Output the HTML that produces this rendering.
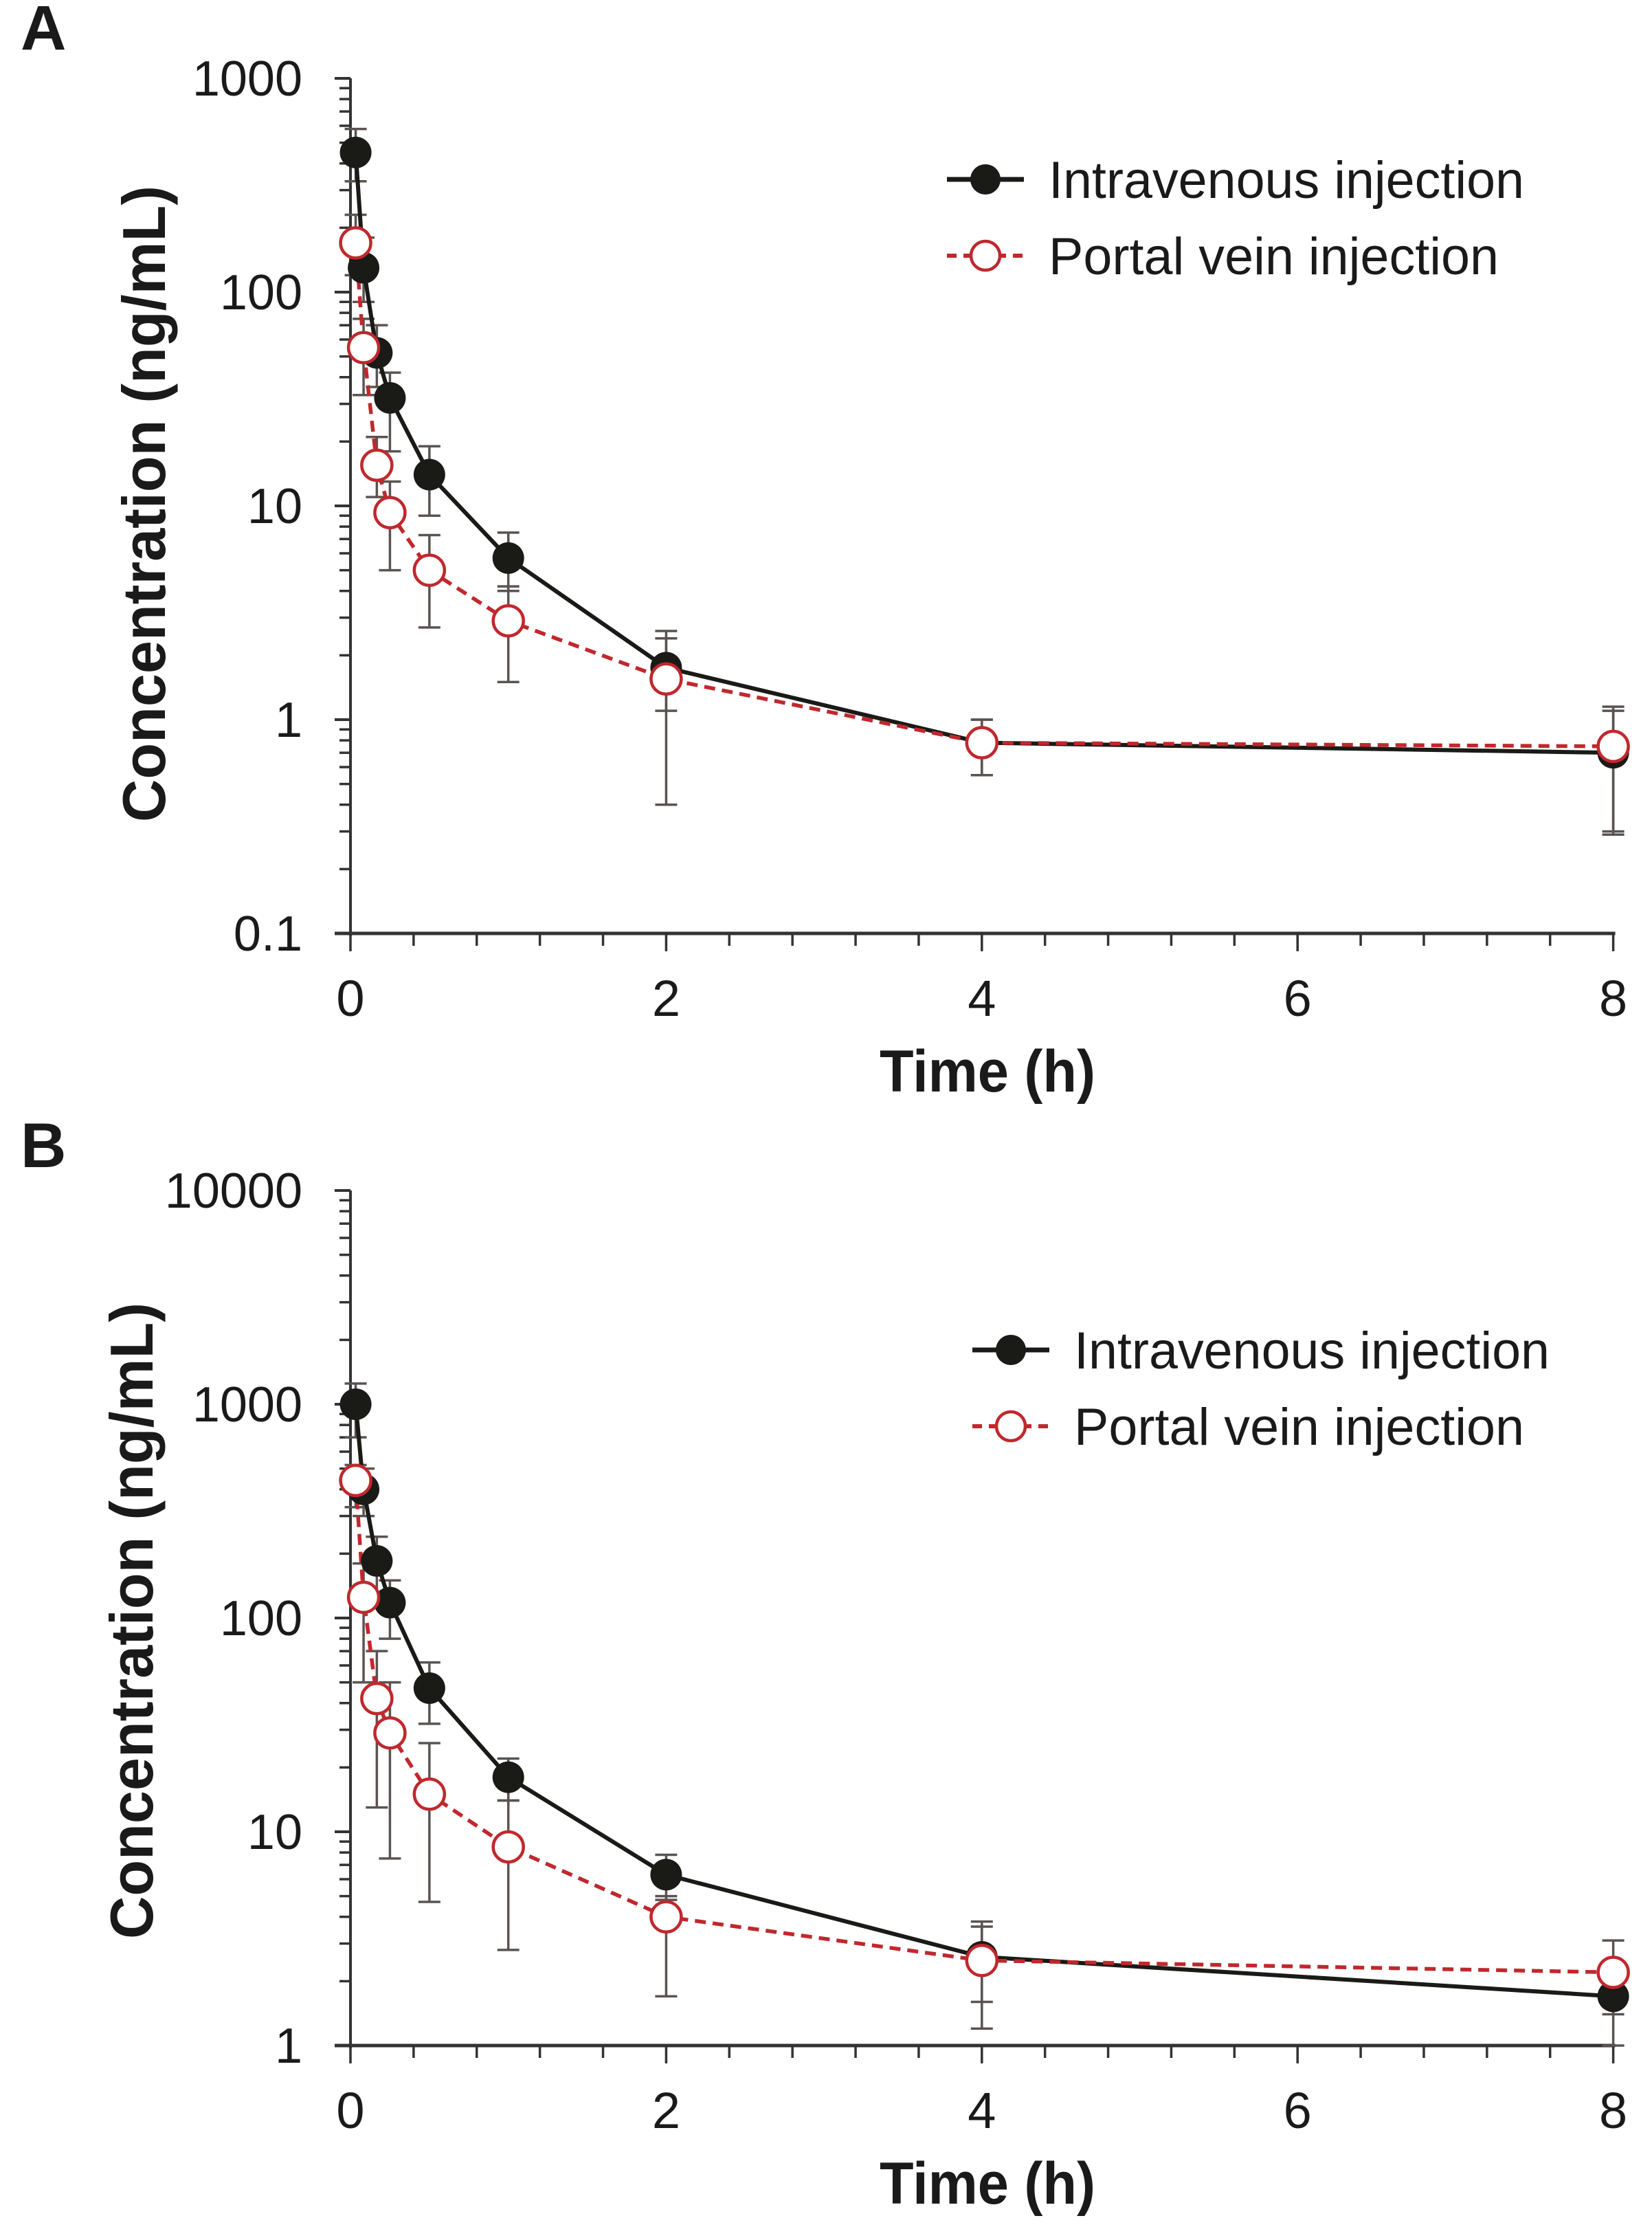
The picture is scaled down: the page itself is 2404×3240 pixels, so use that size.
<!DOCTYPE html>
<html><head><meta charset="utf-8"><style>
html,body{margin:0;padding:0;background:#fff;}
svg{display:block;}
text{font-family:"Liberation Sans",Arial,sans-serif;fill:#1a1a1a;}
</style></head><body>
<svg id="s" width="2404" height="3240" viewBox="0 0 2404 3240" xmlns="http://www.w3.org/2000/svg"></svg>
<script>
var NS="http://www.w3.org/2000/svg",S=document.getElementById('s');
function el(t,a,txt){var e=document.createElementNS(NS,t);for(var k in a)e.setAttribute(k,a[k]);if(txt!=null)e.textContent=txt;S.appendChild(e);return e;}
var X0=510,XH=229.7;
function panel(P){
 var yT=P.yTop,dec=P.dec,lmin=P.lmin,lmax=P.lmax,yB=yT+(lmax-lmin)*dec;
 function Y(v){return yT+(lmax-Math.log10(v))*dec;}
 function X(t){return X0+t*XH;}
 // axes
 el('line',{x1:X0,y1:yT,x2:X0,y2:yB+4,stroke:'#333','stroke-width':4});
 el('line',{x1:487,y1:yB,x2:X(8)+3,y2:yB,stroke:'#333','stroke-width':5});
 for(var d=lmin;d<=lmax;d++){
  var yy=yT+(lmax-d)*dec;
  el('line',{x1:487,y1:yy,x2:X0,y2:yy,stroke:'#333','stroke-width':4});
  el('text',{x:440,y:yy+25,'text-anchor':'end','font-size':72},P.lab[d-lmin]);
  if(d<lmax)for(var m=2;m<=9;m++){var ym=Y(Math.pow(10,d)*m);el('line',{x1:494,y1:ym,x2:X0,y2:ym,stroke:'#333','stroke-width':3.5});}
 }
 for(var i=0;i<=20;i++){var xx=X(i*0.4),maj=(i%5==0);
  el('line',{x1:xx,y1:yB,x2:xx,y2:yB+(maj?26:18),stroke:'#333','stroke-width':3.5});}
 [0,2,4,6,8].forEach(function(t){el('text',{x:X(t),y:yB+120,'text-anchor':'middle','font-size':74},t);});
 el('text',{x:1437,y:yB+230,'text-anchor':'middle','font-size':86,'font-weight':'bold',textLength:314,lengthAdjust:'spacingAndGlyphs'},'Time (h)');
 el('text',{x:0,y:0,'text-anchor':'middle','font-size':88,'font-weight':'bold',textLength:926,lengthAdjust:'spacingAndGlyphs',transform:'translate('+P.titleX+','+P.titleY+') rotate(-90)'},'Concentration (ng/mL)');
 el('text',{x:30,y:P.letterY,'font-size':92,'font-weight':'bold'},P.letter);
 var T=[0.033,0.083,0.167,0.25,0.5,1,2,4,8];
 // error bars
 [P.iv,P.pv].forEach(function(s){s.forEach(function(p,i){var x=X(T[i]);
  el('line',{x1:x,y1:Y(p[1]),x2:x,y2:Y(p[2]),stroke:'#5a5352','stroke-width':3.5});
  [p[1],p[2]].forEach(function(v){el('line',{x1:x-16,y1:Y(v),x2:x+16,y2:Y(v),stroke:'#5a5352','stroke-width':3.5});});
 });});
 function pts(s){return s.map(function(p,i){return X(T[i])+','+Y(p[0]);}).join(' ');}
 el('polyline',{points:pts(P.iv),fill:'none',stroke:'#1a1a17','stroke-width':6});
 el('polyline',{points:pts(P.pv),fill:'none',stroke:'#c0282d','stroke-width':5.5,'stroke-dasharray':'16,10'});
 P.iv.forEach(function(p,i){el('circle',{cx:X(T[i]),cy:Y(p[0]),r:23,fill:'#1a1a17'});});
 P.pv.forEach(function(p,i){el('circle',{cx:X(T[i]),cy:Y(p[0]),r:22,fill:'#fff',stroke:'#c0282d','stroke-width':4.5});});
 // legend
 var lx=P.legX,ly=P.legY;
 el('line',{x1:lx,y1:ly,x2:lx+112,y2:ly,stroke:'#1a1a17','stroke-width':7});
 el('circle',{cx:lx+56,cy:ly,r:22,fill:'#1a1a17'});
 el('line',{x1:lx,y1:ly+111,x2:lx+112,y2:ly+111,stroke:'#c0282d','stroke-width':6,'stroke-dasharray':'14,10'});
 el('circle',{cx:lx+56,cy:ly+111,r:21,fill:'#fff',stroke:'#c0282d','stroke-width':4.5});
 el('text',{x:lx+148,y:ly+27,'font-size':76,textLength:692,lengthAdjust:'spacingAndGlyphs'},'Intravenous injection');
 el('text',{x:lx+148,y:ly+138,'font-size':76,textLength:655,lengthAdjust:'spacingAndGlyphs'},'Portal vein injection');
}
panel({yTop:114,dec:311,lmin:-1,lmax:3,lab:['0.1','1','10','100','1000'],titleX:240,titleY:733,letter:'A',letterY:72,legX:1378,legY:261,
 iv:[[450,580,330],[130,180,90],[52,70,36],[32,42,18],[14,19,9],[5.7,7.5,4],[1.75,2.6,1.1],[0.78,1.0,0.55],[0.7,1.1,0.29]],
 pv:[[170,230,120],[55,75,33],[15.5,21,11],[9.3,13,5],[5.0,7.3,2.7],[2.9,4.2,1.5],[1.55,2.4,0.4],[0.78,1.0,0.55],[0.75,1.15,0.3]]});
panel({yTop:1732,dec:311,lmin:0,lmax:4,lab:['1','10','100','1000','10000'],titleX:222,titleY:2358,letter:'B',letterY:1698,legX:1415,legY:1964,
 iv:[[1000,1250,700],[400,500,300],[185,240,130],[118,150,80],[47,62,32],[18,22,14],[6.3,7.8,4.8],[2.6,3.8,1.6],[1.7,2.3,1.0]],
 pv:[[440,520,330],[125,180,50],[42,70,13],[29,50,7.5],[15,26,4.7],[8.5,14,2.8],[4.0,5,1.7],[2.5,3.6,1.2],[2.2,3.1,1.4]]});
</script>
</body></html>
